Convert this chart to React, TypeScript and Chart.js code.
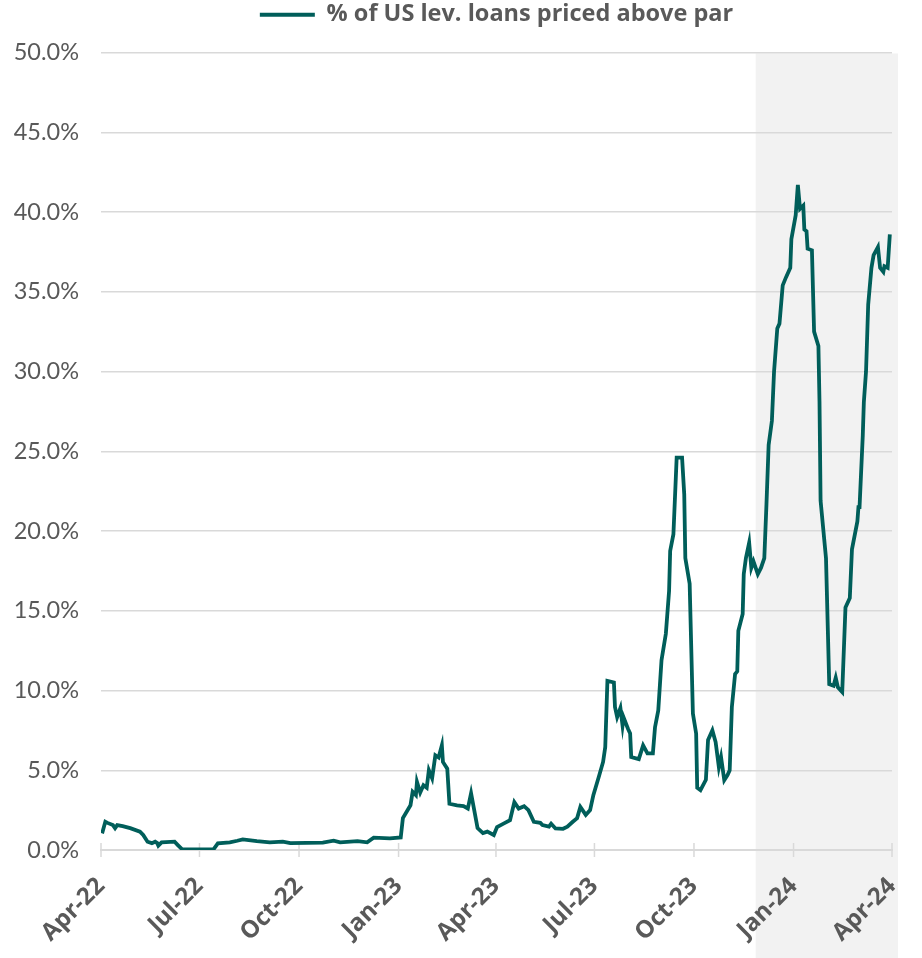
import React, { useEffect, useRef } from 'react';
import { Chart, registerables } from 'chart.js';

Chart.register(...registerables);

const FONT = 'Lato, "Open Sans", sans-serif';
const BOLD_FONT = '"Open Sans", Lato, sans-serif';

// Days since 1 Apr 2022
const dayOffsets = [
  1, 4, 6, 11, 13, 15, 20, 27, 36, 39,
  43, 47, 50, 52, 53, 56, 68, 71, 75, 104,
  108, 119, 126, 131, 144, 156, 168, 175, 205, 215,
  221, 237, 246, 252, 267, 277, 279, 286, 288, 291,
  292, 295, 298, 301, 303, 306, 309, 312, 315, 316,
  320, 322, 329, 335, 339, 342, 348, 353, 357, 363,
  366, 372, 378, 382, 386, 391, 395, 400, 406, 408,
  414, 416, 420, 427, 431, 436, 440, 443, 448, 452,
  455, 460, 464, 466, 468, 474, 475, 477, 480, 482,
  483, 487, 489, 490, 497, 501, 505, 510, 512, 515,
  518, 522, 525, 526, 529, 532, 537, 539, 540, 544,
  547, 550, 551, 554, 559, 561, 565, 568, 571, 573,
  576, 579, 581, 583, 586, 588, 589, 593, 594, 596,
  599, 601, 603, 607, 610, 613, 615, 617, 620, 622,
  625, 627, 630, 633, 637, 638, 642, 644, 646, 649,
  650, 652, 653, 657, 659, 663, 664, 665, 670, 673,
  677, 679, 681, 685, 688, 692, 694, 699, 700, 701,
  704, 705, 707, 709, 712, 714, 718, 720, 723, 724,
  727, 729,
];

// % of US leveraged loans priced above par
const pctAbovePar = [
  1.04, 1.77, 1.7, 1.56, 1.37, 1.56, 1.5, 1.37, 1.15, 0.94,
  0.52, 0.43, 0.52, 0.43, 0.27, 0.48, 0.52, 0.31, 0.04, 0.04,
  0.42, 0.48, 0.58, 0.67, 0.56, 0.48, 0.52, 0.43, 0.46, 0.58,
  0.48, 0.56, 0.48, 0.77, 0.73, 0.79, 2.0, 2.8, 3.65, 3.44,
  4.27, 3.6, 4.06, 3.9, 5.0, 4.5, 5.94, 5.8, 6.56, 5.52,
  5.1, 2.9, 2.8, 2.75, 2.6, 3.56, 1.37, 1.06, 1.15, 0.94,
  1.44, 1.65, 1.87, 3.0, 2.6, 2.75, 2.5, 1.77, 1.7, 1.56,
  1.46, 1.65, 1.35, 1.33, 1.46, 1.77, 2.0, 2.7, 2.2, 2.5,
  3.44, 4.58, 5.52, 6.46, 10.6, 10.5, 8.96, 8.33, 8.9, 7.8,
  8.3, 7.6, 7.3, 5.83, 5.7, 6.56, 6.06, 6.06, 7.7, 8.75,
  11.9, 13.56, 16.25, 18.75, 19.8, 24.6, 24.6, 22.3, 18.3, 16.7,
  8.56, 7.3, 3.9, 3.75, 4.4, 6.9, 7.5, 6.77, 5.2, 5.83,
  4.38, 4.7, 5.0, 8.96, 11.04, 11.2, 13.75, 14.8, 17.3, 18.3,
  19.27, 17.7, 18.1, 17.3, 17.7, 18.3, 21.7, 25.4, 26.9, 30.0,
  32.7, 33.0, 35.4, 35.9, 36.5, 38.3, 39.8, 41.7, 40.2, 40.4,
  38.9, 38.8, 37.7, 37.6, 32.5, 31.6, 28.1, 21.9, 18.3, 10.4,
  10.3, 10.8, 10.2, 9.9, 15.2, 15.8, 18.85, 20.6, 21.5, 21.5,
  26.0, 28.1, 30.0, 34.2, 36.5, 37.3, 37.8, 36.5, 36.25, 36.6,
  36.5, 38.6,
];

const quarterDays = [0, 91, 183, 275, 365, 456, 548, 640, 731];
const quarterLabels = ['Apr-22', 'Jul-22', 'Oct-22', 'Jan-23', 'Apr-23', 'Jul-23', 'Oct-23', 'Jan-24', 'Apr-24'];
const shadeStartDay = 605;
const seriesLabel = '% of US lev. loans priced above par';

export default function App() {
  const ref = useRef<HTMLCanvasElement>(null);

  useEffect(() => {
    if (!ref.current) return;
    const shadePlugin = {
      id: 'shade',
      beforeDraw(chart: any) {
        const { ctx, chartArea, scales } = chart;
        const x0 = scales.x.getPixelForValue(shadeStartDay);
        ctx.save();
        ctx.fillStyle = '#f2f2f2';
        ctx.fillRect(x0, chartArea.top + 1, chartArea.right + 6 - x0, chart.height - chartArea.top);
        ctx.restore();
      },
    };
    const tickMarkPlugin = {
      id: 'tickMarks',
      beforeDatasetsDraw(chart: any) {
        const { ctx, chartArea, scales } = chart;
        ctx.save();
        ctx.strokeStyle = '#d9d9d9';
        ctx.lineWidth = 1.5;
        quarterDays.forEach((d) => {
          const x = scales.x.getPixelForValue(d);
          ctx.beginPath();
          ctx.moveTo(x, chartArea.bottom - 7);
          ctx.lineTo(x, chartArea.bottom + 7);
          ctx.stroke();
        });
        ctx.restore();
      },
    };
    const legendGapPlugin = {
      id: 'legendGap',
      beforeInit(chart: any) {
        const legend = chart.legend;
        if (!legend) return;
        const origFit = legend.fit;
        legend.fit = function () {
          origFit.call(this);
          this.height += 16;
        };
      },
    };

    const chart = new Chart(ref.current, {
      type: 'line',
      data: {
        datasets: [
          {
            label: seriesLabel,
            data: dayOffsets.map((d, i) => ({ x: d, y: pctAbovePar[i] })),
            borderColor: '#005e5a',
            backgroundColor: '#005e5a',
            borderWidth: 3.8,
            pointRadius: 0,
            tension: 0,
            pointStyle: 'line',
          },
        ],
      },
      options: {
        animation: false,
        responsive: true,
        maintainAspectRatio: false,
        layout: { padding: { left: 0, right: 30, top: 0, bottom: 0 } },
        plugins: {
          legend: {
            position: 'top',
            fullSize: false,
            labels: {
              usePointStyle: true,
              pointStyle: 'line',
              pointStyleWidth: 55,
              color: '#595959',
              font: { family: BOLD_FONT, size: 23.5, weight: 'bold' },
              padding: 3,
            },
          },
          tooltip: { enabled: false },
        },
        scales: {
          x: {
            type: 'linear',
            min: 0,
            max: 731,
            afterBuildTicks: (s: any) => {
              s.ticks = quarterDays.map((v) => ({ value: v }));
            },
            afterFit: (s: any) => {
              s.height = 108;
            },
            ticks: {
              autoSkip: false,
              maxRotation: 45,
              minRotation: 45,
              color: '#595959',
              font: { family: BOLD_FONT, size: 24, weight: 'bold' },
              padding: 0,
              callback: (v: any) => {
                const i = quarterDays.indexOf(Number(v));
                return i >= 0 ? quarterLabels[i] : '';
              },
            },
            grid: { display: true, drawOnChartArea: false, tickLength: 22, color: 'rgba(0,0,0,0)' },
            border: { color: '#d9d9d9', width: 2 },
          },
          y: {
            min: 0,
            max: 50,
            afterFit: (s: any) => {
              s.width = 101;
            },
            ticks: {
              stepSize: 5,
              color: '#595959',
              font: { family: FONT, size: 23.5 },
              padding: 22,
              callback: (v: any) => Number(v).toFixed(1) + '%',
            },
            grid: { color: '#d9d9d9', lineWidth: 1.5, drawTicks: false },
            border: { display: false },
          },
        },
      },
      plugins: [shadePlugin, tickMarkPlugin, legendGapPlugin],
    });
    return () => chart.destroy();
  }, []);

  return (
    <div style={{ position: 'fixed', left: 0, top: 0, width: 922, height: 958, background: '#fff' }}>
      <canvas ref={ref} />
    </div>
  );
}
